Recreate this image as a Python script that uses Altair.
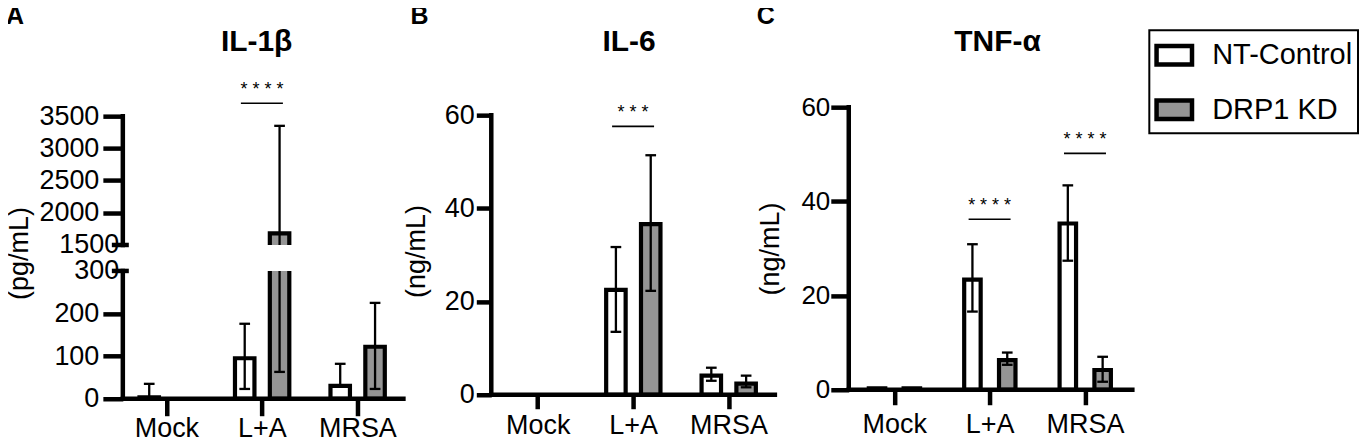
import json
import altair as alt
import pandas as pd

FONT = "Liberation Sans"

categories = ["Mock", "L+A", "MRSA"]
groups = ["NT-Control", "DRP1 KD"]
fills = ["#ffffff", "#959595"]

# IL-1beta (pg/mL): bar height, upper and lower whisker ends (None = not visible)
il1b_nt_mean = [3, 95, 30]
il1b_nt_hi = [35, 176, 82]
il1b_nt_lo = [None, 23, None]
il1b_kd_mean = [0, 1680, 122]
il1b_kd_hi = [None, 3350, 225]
il1b_kd_lo = [None, 63, 23]
il1b_ticks = [0, 100, 200, 300, 1500, 2000, 2500, 3000, 3500]
il1b_sig_cat = ["L+A"]
il1b_sig_y = [3700]
il1b_sig_label = ["****"]

# IL-6 (ng/mL)
il6_nt_mean = [0, 22.5, 4.1]
il6_nt_hi = [None, 31.7, 5.8]
il6_nt_lo = [None, 13.5, 3.0]
il6_kd_mean = [0, 36.6, 2.4]
il6_kd_hi = [None, 51.4, 4.1]
il6_kd_lo = [None, 22.3, 1.6]
il6_ticks = [0, 20, 40, 60]
il6_sig_cat = ["L+A"]
il6_sig_y = [57.6]
il6_sig_label = ["***"]

# TNF-alpha (ng/mL)
tnf_nt_mean = [0.3, 23.4, 35.3]
tnf_nt_hi = [None, 30.9, 43.4]
tnf_nt_lo = [None, 16.6, 27.4]
tnf_kd_mean = [0.3, 6.3, 4.2]
tnf_kd_hi = [None, 7.9, 7.0]
tnf_kd_lo = [None, 5.3, 1.7]
tnf_ticks = [0, 20, 40, 60]
tnf_sig_cat = ["L+A", "MRSA"]
tnf_sig_y = [36.2, 50.2]
tnf_sig_label = ["****", "****"]

# ---- broken axis design for IL-1beta (pixel heights of the segments) ----
LOW_MAX, HIGH_MIN, HIGH_MAX = 300, 1500, 3500
LOW_PX, GAP_PX, HIGH_PX = 128, 26, 129

AXW = 4.5     # axis line width
BARW = 4.2    # bar outline width
ERRW = 2.3    # error bar width


def tmap_py(v):
    if v <= LOW_MAX:
        return v * LOW_PX / LOW_MAX
    return LOW_PX + GAP_PX + (v - HIGH_MIN) * HIGH_PX / (HIGH_MAX - HIGH_MIN)


def tmap_expr(f):
    return (f"(isValid({f}) ? ({f} <= {LOW_MAX} ? {f} * {LOW_PX} / {LOW_MAX} : "
            f"{LOW_PX + GAP_PX} + ({f} - {HIGH_MIN}) * {HIGH_PX} / {HIGH_MAX - HIGH_MIN}) : null)")


def ident_expr(f):
    return f"(isValid({f}) ? {f} : null)"


def bars_df(nt_mean, nt_hi, nt_lo, kd_mean, kd_hi, kd_lo):
    rows = []
    for i, c in enumerate(categories):
        for g, m, h, l in [(groups[0], nt_mean[i], nt_hi[i], nt_lo[i]),
                           (groups[1], kd_mean[i], kd_hi[i], kd_lo[i])]:
            rows.append({"cat": c, "ci": i, "group": g, "mean": m, "hi": h, "lo": l})
    return pd.DataFrame(rows)


NT_OFF, KD_OFF, CAP, SIG_HALF = -0.18, 0.185, 0.056, 0.22
CATS_JS = json.dumps(categories)


def panel(df, sig, ymap, ytop, yticks_t, ylabel_expr, ytitle, p):
    xsc = alt.Scale(domain=p["xdom"], nice=False, zero=False)
    ysc = alt.Scale(domain=[0, ytop], nice=False, zero=False)
    xaxis = alt.Axis(values=[0, 1, 2], tickCount=20, labelExpr=f"{CATS_JS}[datum.value]",
                     domain=False, grid=False, title=None, tickSize=p["xtick"], tickWidth=AXW,
                     tickColor="black", labelColor="black", labelFontSize=27,
                     labelPadding=p["xlabpad"], labelFont=FONT, labelOverlap=False)
    yaxis_kw = dict(values=yticks_t, tickCount=40, domain=False, grid=False, title=ytitle,
                    tickSize=p["ytick"], tickWidth=AXW, tickColor="black",
                    labelColor="black", labelFontSize=p["ylabfs"], labelPadding=p["ylabpad"],
                    labelFont=FONT, labelOverlap=False, titleFont=FONT, titleFontSize=27,
                    titleFontWeight="normal", titleColor="black", titlePadding=p["ytitlepad"])
    if ylabel_expr:
        yaxis_kw["labelExpr"] = ylabel_expr
    if p.get("ytick_cond"):
        yaxis_kw["tickSize"] = p["ytick_cond"]
    yaxis = alt.Axis(**yaxis_kw)

    def X(f):
        return alt.X(f, scale=xsc, axis=xaxis)

    def Y(f):
        return alt.Y(f, scale=ysc, axis=yaxis)

    base = alt.Chart(df).transform_calculate(
        xpos=f"datum.ci + (datum.group == '{groups[0]}' ? {NT_OFF} : {KD_OFF})",
        ym=ymap("datum.mean"), yh=ymap("datum.hi"), yl=ymap("datum.lo"),
    )
    bars = base.transform_filter("datum.mean > 0").mark_bar(
        width=p["barw"], stroke="black", strokeWidth=BARW
    ).encode(
        x=X("xpos:Q"), y=Y("ym:Q"), y2=alt.datum(0),
        fill=alt.Fill("group:N", scale=alt.Scale(domain=groups, range=fills),
                      legend=p["legend"]),
    )
    err = base.transform_filter("isValid(datum.hi)").transform_calculate(
        ylow="isValid(datum.yl) ? datum.yl : datum.ym"
    ).mark_rule(color="black", strokeWidth=ERRW).encode(x=X("xpos:Q"), y=Y("yh:Q"), y2="ylow:Q")
    cap_hi = base.transform_filter("isValid(datum.hi)").transform_calculate(
        c1=f"datum.xpos - {CAP}", c2=f"datum.xpos + {CAP}"
    ).mark_rule(color="black", strokeWidth=ERRW).encode(x=X("c1:Q"), x2="c2:Q", y=Y("yh:Q"))
    cap_lo = base.transform_filter("isValid(datum.lo)").transform_calculate(
        c1=f"datum.xpos - {CAP}", c2=f"datum.xpos + {CAP}"
    ).mark_rule(color="black", strokeWidth=ERRW).encode(x=X("c1:Q"), x2="c2:Q", y=Y("yl:Q"))

    layers = [bars, err, cap_hi, cap_lo]

    one = pd.DataFrame({"k": [0]})
    if p.get("gap"):
        g0, g1 = p["gap"]
        layers.append(alt.Chart(one).mark_rect(color="white").encode(
            x=alt.value(4), x2=alt.value(p["xline_w"]), y=alt.datum(g0), y2=alt.datum(g1)))

    # axis lines
    layers.append(alt.Chart(one).mark_rule(color="black", strokeWidth=AXW, strokeCap="square").encode(
        x=alt.value(0), x2=alt.value(p["xline_w"]), y=alt.datum(0)))
    seg = pd.DataFrame({"s": [a for a, b in p["ysegs"]], "e": [b for a, b in p["ysegs"]]})
    layers.append(alt.Chart(seg).mark_rule(color="black", strokeWidth=AXW, strokeCap="square").encode(
        x=alt.value(0), y=Y("s:Q"), y2="e:Q"))
    if p.get("breaks"):
        brk = pd.DataFrame({"b": p["breaks"]})
        layers.append(alt.Chart(brk).mark_rule(color="black", strokeWidth=AXW).encode(
            x=alt.value(-11), x2=alt.value(6), y=Y("b:Q")))

    # significance
    sdf = pd.DataFrame({"cat": sig[0], "y": sig[1], "label": sig[2]})
    sbase = alt.Chart(sdf).transform_calculate(
        ci=f"indexof({CATS_JS}, datum.cat)",
        sy=ymap("datum.y"),
        stars="join(split(datum.label, ''), ' ')",
    ).transform_calculate(sx1=f"datum.ci - {SIG_HALF}", sx2=f"datum.ci + {SIG_HALF}")
    layers.append(sbase.mark_rule(color="black", strokeWidth=1.6).encode(
        x=X("sx1:Q"), x2="sx2:Q", y=Y("sy:Q")))
    layers.append(sbase.mark_text(fontSize=18, dy=-8, baseline="alphabetic", align="center",
                                  color="black", font=FONT).encode(
        x=X("ci:Q"), y=Y("sy:Q"), text="stars:N"))

    # panel title and letter
    layers.append(alt.Chart(pd.DataFrame({"t": [p["title"]]})).mark_text(
        fontSize=30, fontWeight="bold", align="center", baseline="alphabetic",
        color="black", font=FONT).encode(text="t:N", x=alt.value(p["title_x"]), y=alt.value(-56)))
    layers.append(alt.Chart(pd.DataFrame({"t": [p["letter"]]})).mark_text(
        fontSize=25, fontWeight="bold", align="center", baseline="alphabetic",
        color="black", font=FONT).encode(text="t:N", x=alt.value(p["letter_x"]), y=alt.value(-83)))

    return alt.layer(*layers).properties(width=p["w"], height=p["h"])


# ---- Panel A ----
dfA = bars_df(il1b_nt_mean, il1b_nt_hi, il1b_nt_lo, il1b_kd_mean, il1b_kd_hi, il1b_kd_lo)
ticksA = [tmap_py(v) for v in il1b_ticks]
labA = (f"datum.value < {LOW_PX + GAP_PX / 2} ? format(round(datum.value * {LOW_MAX} / {LOW_PX}), 'd') : "
        f"format(round({HIGH_MIN} + (datum.value - {LOW_PX + GAP_PX}) * {HIGH_MAX - HIGH_MIN} / {HIGH_PX}), 'd')")
condA = {"condition": {"test": f"datum.value == {tmap_py(LOW_MAX)} || datum.value == {tmap_py(HIGH_MIN)}",
                       "value": 0}, "value": 20}
pA = dict(xdom=[-0.404, 2.576], w=295, h=292, xtick=17, xlabpad=0, ytick=20, ylabpad=4,
          ylabfs=27, ytitlepad=5, ytick_cond=condA, barw=19.5, legend=None, xline_w=281,
          gap=(tmap_py(LOW_MAX), tmap_py(HIGH_MIN)),
          ysegs=[(tmap_py(il1b_ticks[0]), tmap_py(LOW_MAX)), (tmap_py(HIGH_MIN), tmap_py(il1b_ticks[-1]))],
          breaks=[tmap_py(LOW_MAX), tmap_py(HIGH_MIN)],
          title="IL-1β", title_x=134, letter="A", letter_x=-108)
chartA = panel(dfA, (il1b_sig_cat, il1b_sig_y, il1b_sig_label), tmap_expr, 292, ticksA, labA,
               "(pg/mL)", pA)

# ---- Panel B ----
dfB = bars_df(il6_nt_mean, il6_nt_hi, il6_nt_lo, il6_kd_mean, il6_kd_hi, il6_kd_lo)
pB = dict(xdom=[-0.434, 2.434], w=284, h=288, xtick=14, xlabpad=4, ytick=15, ylabpad=2,
          ylabfs=27, ytitlepad=14, barw=19.5, legend=None, xline_w=284,
          ysegs=[(il6_ticks[0], il6_ticks[-1])],
          title="IL-6", title_x=138, letter="B", letter_x=-72)
chartB = panel(dfB, (il6_sig_cat, il6_sig_y, il6_sig_label), ident_expr, 288 * 60 / 280, il6_ticks,
               None, "(ng/mL)", pB)

# ---- Panel C ----
dfC = bars_df(tnf_nt_mean, tnf_nt_hi, tnf_nt_lo, tnf_kd_mean, tnf_kd_hi, tnf_kd_lo)
legendC = alt.Legend(title=None, orient="none", legendX=301, legendY=-77, strokeColor="black",
                     padding=5, symbolType="M-1,-0.52L1,-0.52L1,0.52L-1,0.52Z", symbolSize=1260,
                     symbolStrokeColor="black", symbolStrokeWidth=AXW, labelFontSize=29,
                     labelColor="black", labelOffset=18, rowPadding=15.5, labelFont=FONT)
pC = dict(xdom=[-0.424, 2.444], w=284, h=283, xtick=15, xlabpad=7, ytick=18, ylabpad=1,
          ylabfs=26, ytitlepad=16, barw=16.5, legend=legendC, xline_w=284,
          ysegs=[(tnf_ticks[0], tnf_ticks[-1])],
          title="TNF-α", title_x=149, letter="C", letter_x=-83)
chartC = panel(dfC, (tnf_sig_cat, tnf_sig_y, tnf_sig_label), ident_expr, 60, tnf_ticks,
               None, "(ng/mL)", pC)

chart = alt.hconcat(chartA, chartB, chartC, spacing=74, bounds="flush").resolve_scale(
    x="independent", y="independent", fill="independent"
).resolve_legend(fill="independent").properties(
    padding={"left": -3, "top": -4, "right": 5, "bottom": 5}
).configure(
    font=FONT
).configure_view(stroke=None).configure_legend(strokeWidth=2)

chart.save("out.html", embed_options={"renderer": "svg", "actions": False})
